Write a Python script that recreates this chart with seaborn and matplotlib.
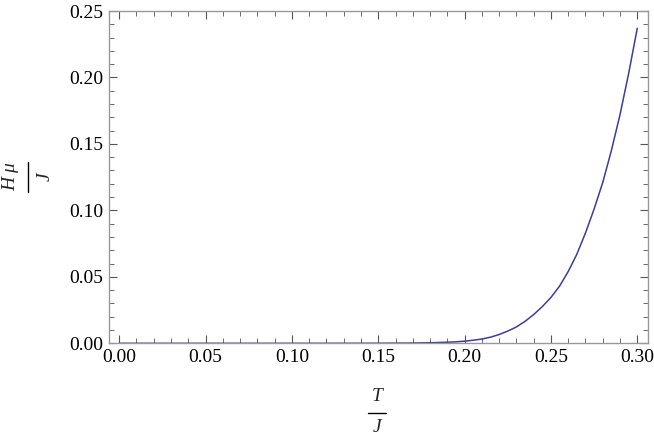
import matplotlib
matplotlib.use("Agg")
import matplotlib.pyplot as plt
import seaborn as sns
import numpy as np
import pandas as pd
from matplotlib.ticker import MultipleLocator
from matplotlib.lines import Line2D

T = [0.0, 0.05, 0.10, 0.15, 0.17, 0.18, 0.19, 0.195, 0.20, 0.205, 0.21, 0.215,
     0.22, 0.225, 0.23, 0.235, 0.24, 0.245, 0.25, 0.255, 0.26, 0.265, 0.27,
     0.275, 0.28, 0.285, 0.29, 0.295, 0.30]
H = [0.0, 0.0, 0.0, 0.00003, 0.0002, 0.0004, 0.0008, 0.0011, 0.0016, 0.0023,
     0.0032, 0.0046, 0.0066, 0.0092, 0.0123, 0.0165, 0.0216, 0.0276, 0.0345,
     0.0430, 0.0540, 0.0670, 0.0830, 0.1010, 0.1210, 0.1450, 0.1720, 0.2030,
     0.2370]
x_ticks = [0.00, 0.05, 0.10, 0.15, 0.20, 0.25, 0.30]
y_ticks = [0.00, 0.05, 0.10, 0.15, 0.20, 0.25]

sns.set_style("ticks")
plt.rcParams['font.family'] = ['Liberation Serif', 'DejaVu Serif']
plt.rcParams['mathtext.fontset'] = 'stix'

W, Hpx = 654, 440
fig = plt.figure(figsize=(W / 100, Hpx / 100), dpi=100)
ax = fig.add_axes([0.1662, 0.2198, 0.9908 - 0.1662, 0.975 - 0.2198])

df = pd.DataFrame({"T": T, "H": H})
sns.lineplot(data=df, x="T", y="H", ax=ax, color="#3D3D99", linewidth=1.1)

ax.set_xlim(-0.0061, 0.3062)
ax.set_ylim(0.0, 0.25)
ax.set_xticks(x_ticks)
ax.set_xticklabels([f"{v:.2f}" for v in x_ticks])
ax.set_yticks(y_ticks)
ax.set_yticklabels([f"{v:.2f}" for v in y_ticks])
ax.xaxis.set_minor_locator(MultipleLocator(0.01))
ax.yaxis.set_minor_locator(MultipleLocator(0.01))
ax.set_xlabel("")
ax.set_ylabel("")

frame_c = "#999999"
for s in ax.spines.values():
    s.set_visible(True)
    s.set_color(frame_c)
    s.set_linewidth(1.0)

ax.tick_params(which="both", direction="in", top=True, right=True,
               color="#555555", labelsize=14, labelcolor="black")
ax.tick_params(which="major", length=6, width=0.8, pad=4)
ax.tick_params(which="minor", length=3.5, width=0.6)

def fx(px):
    return px / W

def fy(py):
    return 1 - py / Hpx

lab = dict(fontsize=14, fontstyle="italic", ha="center", va="center")
# x label: T / J
fig.text(fx(376.7), fy(396), "T", **lab)
fig.add_artist(Line2D([fx(368), fx(385.5)], [fy(412.7), fy(412.7)],
                      transform=fig.transFigure, color="black", linewidth=1.0))
fig.text(fx(376.7), fy(427), "J", **lab)
# y label: H mu / J
fig.text(fx(10.5), fy(177), "H μ", rotation=90, **lab)
fig.add_artist(Line2D([fx(27.7), fx(27.7)], [fy(161.7), fy(192.3)],
                      transform=fig.transFigure, color="black", linewidth=1.0))
fig.text(fx(45), fy(177), "J", rotation=90, **lab)

fig.savefig("out.png", dpi=100)
